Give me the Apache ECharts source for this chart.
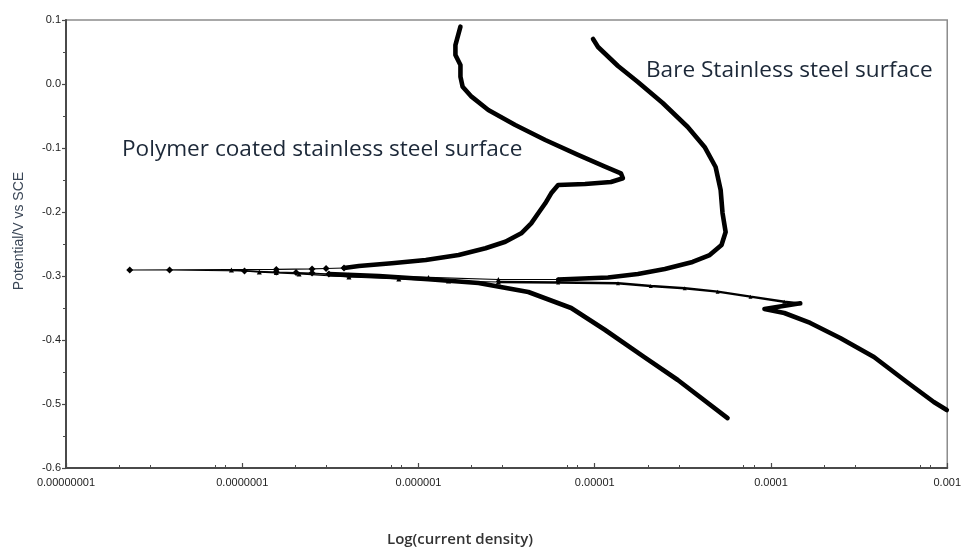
<!DOCTYPE html>
<html>
<head>
<meta charset="utf-8">
<script src="https://cdn.jsdelivr.net/npm/echarts@6/dist/echarts.min.js"></script>
<style>
  html, body { margin: 0; padding: 0; background: #ffffff; }
  #chart { width: 964px; height: 553px; }
</style>
</head>
<body>
<div id="chart"></div>
<script>
// Potentiodynamic polarisation curves: potential (V vs SCE) against current density (log scale)

// Axis ticks
const xTickLabels = ['0.00000001', '0.0000001', '0.000001', '0.00001', '0.0001', '0.001'];
const yTickLabels = ['0.1', '0.0', '-0.1', '-0.2', '-0.3', '-0.4', '-0.5', '-0.6'];
const xMinorMultipliers = [2, 3, 7, 8];

// Polymer coated stainless steel: [current density, potential]
const polymerCathodic = [
  [5.67e-5, -0.522], [2.96e-5, -0.4625], [1.92e-5, -0.427], [1.14e-5, -0.384],
  [7.35e-6, -0.350], [4.2e-6, -0.325], [2.19e-6, -0.311], [1.14e-6, -0.305],
  [5.96e-7, -0.300], [3.1e-7, -0.297]
];
const polymerNearEcorr = [
  [2.49e-7, -0.2953], [2.02e-7, -0.2945], [1.56e-7, -0.2938], [1.03e-7, -0.2920],
  [3.87e-8, -0.2906], [2.3e-8, -0.2906], [1.56e-7, -0.2898], [2.49e-7, -0.2890],
  [2.99e-7, -0.2883]
];
const polymerAnodic = [
  [3.78e-7, -0.2875], [4.59e-7, -0.2844], [7.05e-7, -0.2802], [1.10e-6, -0.275],
  [1.69e-6, -0.2672], [2.4e-6, -0.2567], [3.11e-6, -0.2464], [3.83e-6, -0.2333],
  [4.36e-6, -0.2177], [4.78e-6, -0.202], [5.24e-6, -0.1864], [5.66e-6, -0.1708],
  [6.2e-6, -0.1578], [8.81e-6, -0.1563], [1.236e-5, -0.1531], [1.445e-5, -0.1473],
  [1.408e-5, -0.1395], [1.143e-5, -0.1292], [8.04e-6, -0.1109], [5.24e-6, -0.0875],
  [3.54e-6, -0.0641], [2.49e-6, -0.0406], [2.0e-6, -0.0198], [1.78e-6, -0.0042],
  [1.73e-6, 0.0114], [1.73e-6, 0.0297], [1.62e-6, 0.0453], [1.62e-6, 0.0609],
  [1.73e-6, 0.0895]
];

// Bare stainless steel: [current density, potential]
const bareCathodic = [
  [9.94e-4, -0.5094], [8.39e-4, -0.4969], [5.9e-4, -0.4656], [3.84e-4, -0.4266],
  [2.47e-4, -0.3969], [1.67e-4, -0.3734], [1.19e-4, -0.3578], [9.18e-5, -0.3516],
  [1.466e-4, -0.3427]
];
const bareCathodicUpper = [
  [1.19e-4, -0.3402], [7.65e-5, -0.3323], [4.98e-5, -0.3245], [3.24e-5, -0.3192],
  [2.08e-5, -0.3156], [1.355e-5, -0.3114], [6.2e-6, -0.3101], [2.84e-6, -0.3094]
];
const bareNearEcorr = [
  [1.48e-6, -0.3078], [7.73e-7, -0.3047], [4.03e-7, -0.3016], [2.1e-7, -0.2969],
  [1.25e-7, -0.2938], [8.68e-8, -0.2906], [1.56e-7, -0.2945], [4.03e-7, -0.2984],
  [1.14e-6, -0.3023], [2.84e-6, -0.3055]
];
const bareAnodic = [
  [6.2e-6, -0.3055], [1.189e-5, -0.3023], [1.757e-5, -0.2969], [2.5e-5, -0.2891],
  [3.59e-5, -0.2781], [4.49e-5, -0.2672], [5.24e-5, -0.2516], [5.53e-5, -0.2313],
  [5.31e-5, -0.2016], [5.18e-5, -0.1656], [4.85e-5, -0.1297], [4.2e-5, -0.0984],
  [3.37e-5, -0.0672], [2.43e-5, -0.0297], [1.757e-5, 0.0031], [1.355e-5, 0.0281],
  [1.044e-5, 0.0578], [9.78e-6, 0.0703]
];

const xMin = 1e-8, xMax = 1e-3;
const minorTickValues = [];
for (let d = -8; d < -3; d++) {
  xMinorMultipliers.forEach(m => minorTickValues.push(m * Math.pow(10, d)));
}

const ink = '#000000';
const axisColor = '#4a4a4a';
const tickFont = '"Liberation Sans", Arial, sans-serif';
const noteFont = '22.6px "Open Sans", Lato, sans-serif';
const noteColor = '#1c2838';

function denseLine(name, data) {
  return {
    name, type: 'line', data, xAxisIndex: 0,
    showSymbol: false, symbol: 'none',
    lineStyle: { color: ink, width: 4.6, join: 'round', cap: 'round' },
    z: 3
  };
}
function markedLine(name, data, symbol, size, width) {
  return {
    name, type: 'line', data, xAxisIndex: 0,
    symbol, symbolSize: size, showSymbol: true,
    itemStyle: { color: ink, borderWidth: 0 },
    lineStyle: { color: ink, width },
    z: 4
  };
}
const last = arr => arr[arr.length - 1];

const chart = echarts.init(document.getElementById('chart'), null, { renderer: 'canvas' });
chart.setOption({
  animation: false,
  backgroundColor: '#ffffff',
  grid: {
    left: 66, right: 14, top: 20, bottom: 85,
    show: true, borderColor: '#8c8c8c', borderWidth: 1.5, backgroundColor: 'transparent'
  },
  xAxis: [
    {
      type: 'log', logBase: 10, min: xMin, max: xMax,
      axisLine: { show: true, onZero: false, lineStyle: { color: axisColor, width: 2 } },
      axisTick: { show: true, inside: true, length: 5, lineStyle: { color: axisColor, width: 1.2 } },
      splitLine: { show: false },
      axisLabel: {
        margin: 9, color: '#222', fontSize: 11, fontFamily: tickFont,
        formatter: v => xTickLabels[Math.round(Math.log10(v) + 8)]
      }
    },
    {
      type: 'log', logBase: 10, min: xMin, max: xMax, position: 'bottom',
      axisLine: { show: false, onZero: false },
      axisTick: { show: true, inside: true, length: 3, customValues: minorTickValues,
                  lineStyle: { color: axisColor, width: 1 } },
      axisLabel: { show: false },
      splitLine: { show: false }
    }
  ],
  yAxis: {
    type: 'value', min: -0.6, max: 0.1, interval: 0.1,
    axisLine: { show: true, onZero: false, lineStyle: { color: axisColor, width: 2 } },
    axisTick: { show: true, inside: false, length: 4, lineStyle: { color: axisColor, width: 1.2 } },
    minorTick: { show: true, splitNumber: 2, length: 3, lineStyle: { color: axisColor, width: 1 } },
    splitLine: { show: false },
    minorSplitLine: { show: false },
    axisLabel: {
      margin: 5, color: '#222', fontSize: 11, fontFamily: tickFont,
      formatter: v => yTickLabels[Math.round((0.1 - v) * 10)]
    }
  },
  series: [
    denseLine('Polymer coated cathodic', polymerCathodic),
    markedLine('Polymer coated near Ecorr',
      [last(polymerCathodic), ...polymerNearEcorr, polymerAnodic[0]], 'diamond', 7, 1.2),
    denseLine('Polymer coated anodic', polymerAnodic),
    denseLine('Bare cathodic', bareCathodic),
    markedLine('Bare cathodic upper',
      [last(bareCathodic), ...bareCathodicUpper], 'triangle', 4, 2.4),
    markedLine('Bare near Ecorr',
      [last(bareCathodicUpper), ...bareNearEcorr, bareAnodic[0]], 'triangle', 5, 1.2),
    denseLine('Bare anodic', bareAnodic)
  ],
  graphic: [
    {
      type: 'text', x: 122, y: 150,
      style: { text: 'Polymer coated stainless steel surface', font: noteFont,
               fill: noteColor, verticalAlign: 'middle', align: 'left' }
    },
    {
      type: 'text', x: 646, y: 71,
      style: { text: 'Bare Stainless steel surface', font: noteFont,
               fill: noteColor, verticalAlign: 'middle', align: 'left' }
    },
    {
      type: 'text', x: 19, y: 231, rotation: Math.PI / 2,
      style: { text: 'Potential/V vs SCE', font: '14px "Liberation Sans", Arial, sans-serif',
               fill: '#3a4656', align: 'center', verticalAlign: 'middle' }
    },
    {
      type: 'text', x: 460, y: 540,
      style: { text: 'Log(current density)', font: '600 15px "Open Sans", sans-serif',
               fill: '#333', align: 'center', verticalAlign: 'middle' }
    }
  ]
});
</script>
</body>
</html>
